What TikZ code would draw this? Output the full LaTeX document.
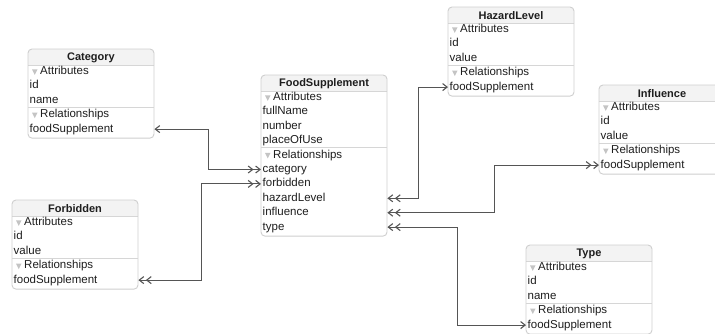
\documentclass[tikz,border=0pt]{standalone}
\usepackage{fontspec}
\setmainfont{Liberation Sans}
\usetikzlibrary{arrows.meta,calc}
\definecolor{framec}{HTML}{CFCFCF}
\definecolor{sepc}{HTML}{D6D6D6}
\definecolor{headc}{HTML}{F3F3F3}
\definecolor{txtc}{HTML}{1E1E1E}
\definecolor{linec}{HTML}{555555}
\definecolor{tric}{HTML}{C4C4C4}
\tikzset{
  tone/.tip={Straight Barb[length=4.5pt,width=7pt]},
  tmany/.tip={Straight Barb[length=4.5pt,width=7pt,sep=1.5pt]Straight Barb[length=4.5pt,width=7pt]},
  frame/.style={draw=framec,line width=0.9pt,rounded corners=4pt},
  sepline/.style={draw=sepc,line width=0.8pt},
  headfill/.style={fill=headc},
  titletext/.style={font=\fontsize{11}{13}\selectfont\bfseries,text=txtc,inner sep=0pt},
  rowtext/.style={anchor=west,inner xsep=1.5pt,inner ysep=0pt,text width=123pt,
     minimum height=14.4pt,text height=8.5pt,text depth=2.5pt,align=left,
     font=\fontsize{11.5}{13}\selectfont,text=txtc},
  tri/.style={fill=tric},
  conn/.style={draw=linec,line width=1.1pt},
}
\newcommand\entframe[4]{% #1 id, #2 x, #3 top, #4 rows
  \pgfmathsetmacro\entbot{#3+22.5+14.4*(#4-1)+9}
  \begin{scope}
    \clip (#2-1,#3-1) rectangle (#2+127,#3+16);
    \fill[headfill,rounded corners=4pt] (#2,#3) rectangle (#2+126,\entbot);
  \end{scope}
  \draw[sepline] (#2,#3+16) -- (#2+126,#3+16);
  \draw[frame] (#2,#3) rectangle (#2+126,\entbot);
}
\newcommand\erow[5]{% #1 name, #2 x, #3 top, #4 index, #5 text
  \node[rowtext] (#1) at (#2,#3+22.5+14.4*#4) {#5};}
\newcommand\esec[5]{% section header row with triangle
  \node[rowtext] (#1) at (#2,#3+22.5+14.4*#4) {\hspace{10.5pt}#5};
  \fill[tri] ($(#1.west)+(4,-2.2)$) -- ++(5.5,0) -- ++(-2.75,5.5) -- cycle;}
\newcommand\esep[1]{\draw[sepline] (#1.north west) -- (#1.north east);}
\newcommand\smallent[6]{% #1 id, #2 x, #3 top, #4 title, #5 attr1, #6 attr2
  \entframe{#1}{#2}{#3}{5}
  \node[titletext] (#1-title) at (#2+63,#3+8.5) {#4};
  \esec{#1-attrs}{#2}{#3}{0}{Attributes}
  \erow{#1-a1}{#2}{#3}{1}{#5}
  \erow{#1-a2}{#2}{#3}{2}{#6}
  \esec{#1-rels}{#2}{#3}{3}{Relationships}
  \esep{#1-rels}
  \erow{#1-fs}{#2}{#3}{4}{foodSupplement}
}
\begin{document}
\begin{tikzpicture}[x=1pt,y=-1pt]
\useasboundingbox (0,0) rectangle (715,333);
\fill[white] (0,0) rectangle (715,333);

\smallent{cat}{28}{49}{Category}{id}{name}
\smallent{haz}{448}{7}{HazardLevel}{id}{value}
\smallent{inf}{599}{85}{Influence}{id}{value}
\smallent{forb}{12}{200}{Forbidden}{id}{value}
\smallent{typ}{526}{245}{Type}{id}{name}

% FoodSupplement
\entframe{fs}{261}{75}{10}
\node[titletext] (fs-title) at (261+63,75+8.5) {FoodSupplement};
\esec{fs-attrs}{261}{75}{0}{Attributes}
\erow{fs-fullName}{261}{75}{1}{fullName}
\erow{fs-number}{261}{75}{2}{number}
\erow{fs-placeOfUse}{261}{75}{3}{placeOfUse}
\esec{fs-rels}{261}{75}{4}{Relationships}
\esep{fs-rels}
\erow{fs-category}{261}{75}{5}{category}
\erow{fs-forbidden}{261}{75}{6}{forbidden}
\erow{fs-hazardLevel}{261}{75}{7}{hazardLevel}
\erow{fs-influence}{261}{75}{8}{influence}
\erow{fs-type}{261}{75}{9}{type}

% connectors
\draw[conn,tone-tmany] (cat-fs.east) -- ++(54,0) |- (fs-category.west);
\draw[conn,tmany-tmany] (forb-fs.east) -- ++(63,0) |- (fs-forbidden.west);
\draw[conn,tmany-tone] (fs-hazardLevel.east) -- ++(31,0) |- (haz-fs.west);
\draw[conn,tmany-tmany] (fs-influence.east) -- ++(107,0) |- (inf-fs.west);
\draw[conn,tmany-tone] (fs-type.east) -- ++(70,0) |- (typ-fs.west);
\end{tikzpicture}
\end{document}
